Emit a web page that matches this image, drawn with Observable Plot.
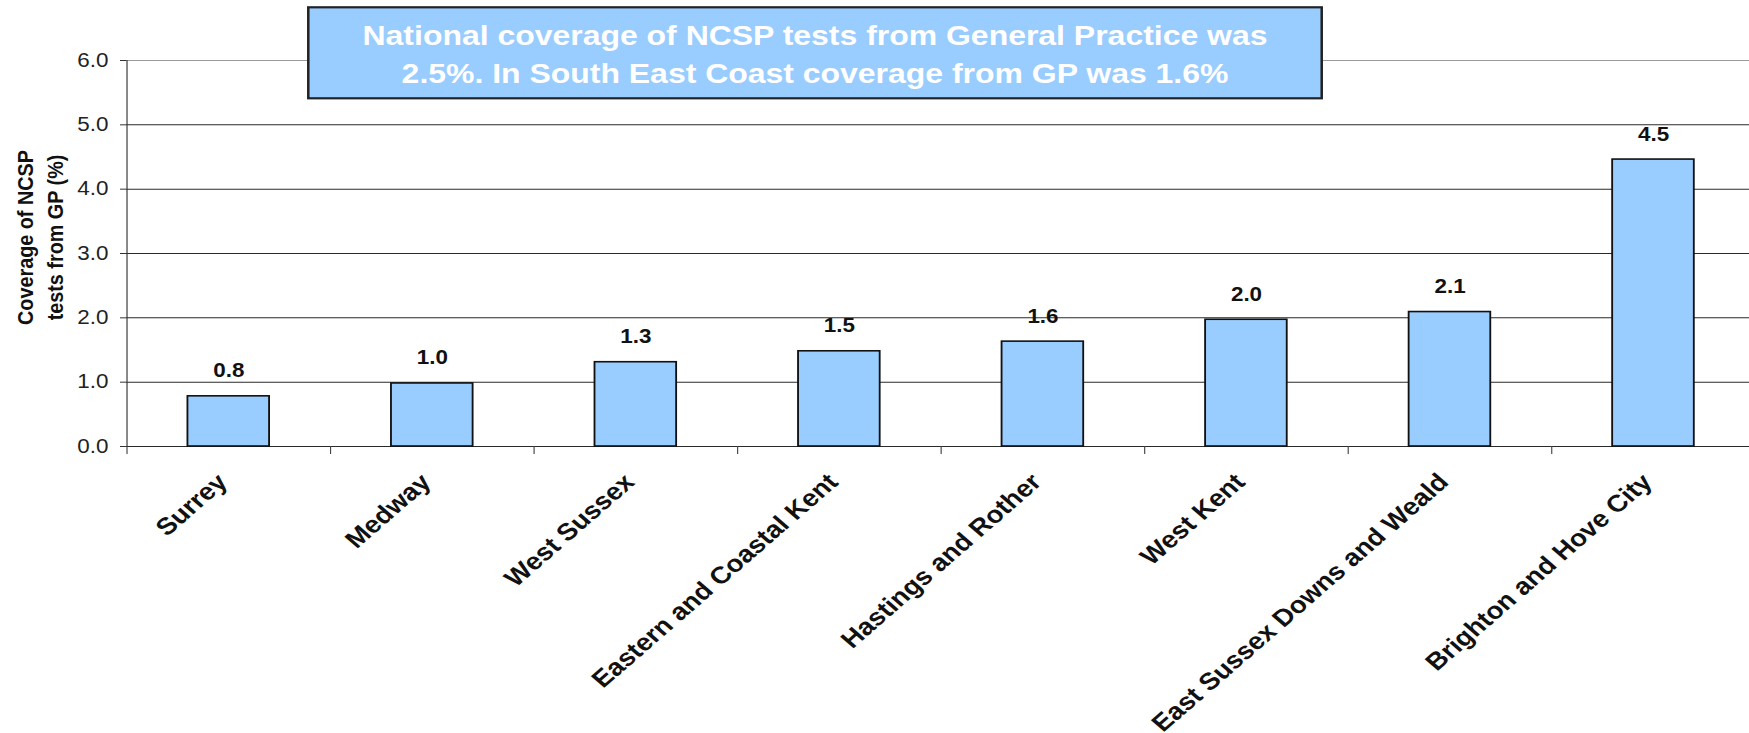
<!DOCTYPE html>
<html>
<head>
<meta charset="utf-8">
<script src="https://cdn.jsdelivr.net/npm/d3@7"></script>
<script src="https://cdn.jsdelivr.net/npm/@observablehq/plot@0.6"></script>
<style>
  html, body { margin: 0; padding: 0; background: #ffffff; }
  #chart { width: 1749px; height: 733px; overflow: hidden; }
</style>
</head>
<body>
<div id="chart"></div>
<script>
// ---- data ----
const categories = [
  "Surrey",
  "Medway",
  "West Sussex",
  "Eastern and Coastal Kent",
  "Hastings and Rother",
  "West Kent",
  "East Sussex Downs and Weald",
  "Brighton and Hove City"
];
const values = [0.78, 0.98, 1.31, 1.48, 1.63, 1.97, 2.09, 4.46];
const yTicks = [0, 1, 2, 3, 4, 5, 6];
const yLabel = "Coverage of NCSP\ntests from GP (%)";
const titleLines = [
  "National coverage of NCSP tests from General Practice was",
  "2.5%. In South East Coast coverage from GP was 1.6%"
];

const data = categories.map((c, i) => ({region: c, value: values[i]}));

// ---- layout (drawn in a design space that is stretched horizontally like the original) ----
const W = 1521, H = 733, OUT_W = 1749;
const S = OUT_W / W;
const left = 126 / S, right = 1755 / S;
const step = (right - left) / categories.length;
const font = "'Liberation Sans', Arial, Helvetica, sans-serif";

const chart = Plot.plot({
  width: W,
  height: H,
  marginLeft: left,
  marginRight: 0,
  marginTop: 60,
  marginBottom: H - 446,
  style: {fontFamily: font, color: "#222", background: "white", overflow: "visible"},
  x: {type: "band", domain: categories, range: [left, right], padding: 0, axis: null},
  y: {domain: [0, 6], axis: null},
  marks: [
    Plot.ruleY(yTicks.slice(0, -1), {stroke: "#2a2a2a", strokeWidth: 1}),
    Plot.ruleY(yTicks.slice(-1), {stroke: "#9a9a9a", strokeWidth: 1}),
    Plot.barY(data, {x: "region", y: "value", fill: "#99CCFF", stroke: "#111", strokeWidth: 1.6, insetLeft: 53, insetRight: 53}),
    Plot.ruleX(categories.slice(0, 1), {x: d => d, y1: 0, y2: 6, dx: -step / 2, stroke: "#333", strokeWidth: 1}),
    Plot.axisY({ticks: yTicks, tickFormat: d => d.toFixed(1), tickSize: 5.2, tickPadding: 10.5, fontSize: 19.5, stroke: "#333", fill: "#222", label: null}),
    Plot.axisX({tickSize: 8, tickFormat: () => "", dx: -step / 2, stroke: "#444", label: null}),
    Plot.text(data, {x: "region", y: "value", text: d => d.value.toFixed(1), dy: -19, lineAnchor: "bottom", fontSize: 19.5, fontWeight: "bold", fill: "#111"}),
    Plot.text(categories, {x: d => d, frameAnchor: "bottom", text: d => d, rotate: -45, textAnchor: "end", lineAnchor: "bottom", dx: 0, dy: 37, fontSize: 24, fontWeight: "bold", fill: "#111"}),
    Plot.text([yLabel], {frameAnchor: "left", text: d => d, dx: -76.4, dy: -16, rotate: -90, textAnchor: "middle", lineAnchor: "middle", lineHeight: 1.28, fontSize: 19.8, fontWeight: "bold", fill: "#111"})
  ]
});

// title box (annotation overlay)
const svg = d3.select(chart);
const tg = svg.append("g");
const boxX = 308.3 / S, boxR = 1321.7 / S;
tg.append("rect")
  .attr("x", boxX).attr("y", 7.3)
  .attr("width", boxR - boxX).attr("height", 91)
  .attr("fill", "#99CCFF").attr("stroke", "#222").attr("stroke-width", 2.2);
tg.selectAll("text.title")
  .data(titleLines)
  .join("text")
  .attr("class", "title")
  .attr("x", (boxX + boxR) / 2)
  .attr("y", (d, i) => 45 + i * 38.3)
  .attr("text-anchor", "middle")
  .attr("font-family", font)
  .attr("font-size", 27.8)
  .attr("font-weight", "bold")
  .attr("fill", "#ffffff")
  .text(d => d);

// stretch horizontally to the output size
chart.setAttribute("viewBox", `0 0 ${W} ${H}`);
chart.setAttribute("width", OUT_W);
chart.setAttribute("height", H);
chart.setAttribute("preserveAspectRatio", "none");
chart.style.width = OUT_W + "px";
chart.style.height = H + "px";
chart.style.maxWidth = "none";

document.getElementById("chart").appendChild(chart);
</script>
</body>
</html>
